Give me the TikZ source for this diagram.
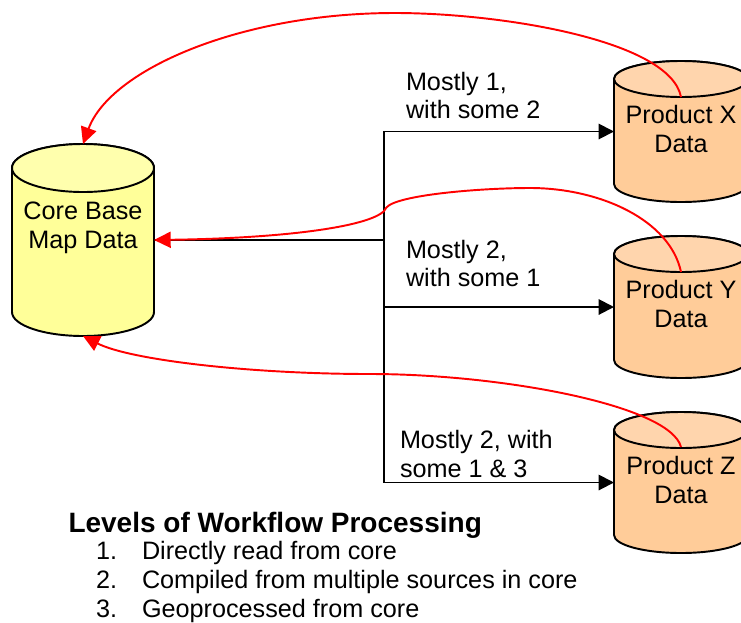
\documentclass[tikz,border=0pt]{standalone}
\usepackage{fontspec}
\setmainfont{Liberation Sans}
\usetikzlibrary{arrows.meta,calc}
\definecolor{coreside}{HTML}{FFFF99}
\definecolor{coretop}{HTML}{FFFFAD}
\definecolor{prodside}{HTML}{FFCC99}
\definecolor{prodtop}{HTML}{FFD5AD}
\definecolor{redline}{HTML}{FF0000}
% #1 node name, #2 centre x, #3 centre y, #4 half width, #5 half height, #6 end radius, #7 side colour, #8 top colour
\newcommand{\drumshape}[8]{%
  \node[drumbox,minimum width=#4*1.5pt,minimum height=#5*1.5pt] (#1) at (#2,#3) {};
  \filldraw[drumline,fill=#7] (#2-#4,#3-#5+#6) -- (#2-#4,#3+#5-#6)
     arc[start angle=180,end angle=0,x radius=#4,y radius=#6]
     -- (#2+#4,#3-#5+#6)
     arc[start angle=0,end angle=-180,x radius=#4,y radius=#6] -- cycle;
  \filldraw[drumline,fill=#8] (#2,#3-#5+#6) ellipse[x radius=#4,y radius=#6];
}
\tikzset{
  drumbox/.style={rectangle,inner sep=0pt,outer sep=0pt},
  drumline/.style={draw=black,line width=1.45pt},
  lbl/.style={font=\fontsize{18.9}{21.6}\selectfont,inner sep=0pt,outer sep=0pt,text=black},
  ctext/.style={lbl,anchor=base,align=center},
  ltext/.style={lbl,anchor=base west,align=left},
  blackconn/.style={draw=black,line width=1.45pt},
  blackarrow/.style={blackconn,-{Triangle[length=11.5pt,width=11.5pt]}},
  redarrow/.style={draw=redline,line width=1.45pt,-{Triangle[length=12.5pt,width=12pt]}},
}
\begin{document}
\begin{tikzpicture}[x=0.75pt,y=-0.75pt]
\useasboundingbox (0,0) rectangle (741,622);
\drumshape{core}{83}{240}{71}{96}{24}{coreside}{coretop}
\drumshape{px}{681}{131.5}{67}{70.5}{18}{prodside}{prodtop}
\drumshape{py}{681}{307}{67}{71}{18}{prodside}{prodtop}
\drumshape{pz}{681}{482.5}{67}{70.5}{18}{prodside}{prodtop}
\coordinate (j) at (384,240);
\coordinate (xin) at (681,97);
\coordinate (yin) at (681,272);
\coordinate (zin) at (681,447);
\draw[blackconn] (core.east) -- (j);
\draw[blackarrow] (j) |- (px.west);
\draw[blackarrow] (j) |- (py.west);
\draw[blackarrow] (j) |- (pz.west);
\draw[redarrow] (xin) .. controls (670,40) and (500,13) .. (395,13) .. controls (240,13) and (110,70) .. (core.north);
\draw[redarrow] (yin) .. controls (670,220) and (600,188) .. (530,188) .. controls (480,188) and (395,195) .. (386,208) .. controls (380,224) and (300,238) .. (core.east);
\draw[redarrow] (zin) .. controls (670,405) and (500,374) .. (370,374) .. controls (250,374) and (130,360) .. (core.south);
\node[ctext] (t1) at (83,219) {Core Base};
\node[ctext] (t2) at (83,248) {Map Data};
\node[ctext] (t3) at (681,123) {Product X};
\node[ctext] (t4) at (681,152) {Data};
\node[ctext] (t5) at (681,298) {Product Y};
\node[ctext] (t6) at (681,327) {Data};
\node[ctext] (t7) at (681,474) {Product Z};
\node[ctext] (t8) at (681,503) {Data};
\node[ltext] (a1) at (406,90) {Mostly 1,};
\node[ltext] (a2) at (406,118) {with some 2};
\node[ltext] (b1) at (406,258) {Mostly 2,};
\node[ltext] (b2) at (406,286) {with some 1};
\node[ltext] (c1) at (400,448) {Mostly 2, with};
\node[ltext] (c2) at (400,477) {some 1 \& 3};
\node[ltext,font=\fontsize{21}{24}\selectfont\bfseries] (h) at (68.5,532) {Levels of Workflow Processing};
\node[ltext] (n1) at (96,559) {1.};
\node[ltext] (n2) at (96,588) {2.};
\node[ltext] (n3) at (96,617) {3.};
\node[ltext] (l1) at (142,559) {Directly read from core};
\node[ltext] (l2) at (142,588) {Compiled from multiple sources in core};
\node[ltext] (l3) at (142,617) {Geoprocessed from core};
\end{tikzpicture}
\end{document}
